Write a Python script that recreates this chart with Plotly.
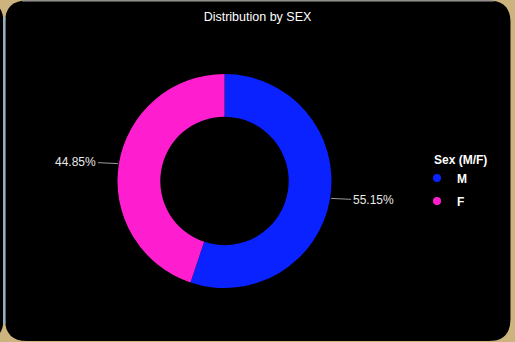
import math
import plotly.graph_objects as go

# ---- data ----
categories = ["M", "F"]
values = [55.15, 44.85]
colors = ["#0A22FF", "#FF1ECF"]
legend_title = "Sex (M/F)"
chart_title = "Distribution by SEX"

W, H = 515, 342
def px(x): return x / W
def py(y): return 1 - y / H

# donut geometry (pixels)
cx, cy, r = 224.5, 181.0, 107.0
hole = 0.6

fig = go.Figure()
fig.add_trace(go.Pie(
    labels=categories, values=values, marker=dict(colors=colors, line=dict(width=0)),
    hole=hole, sort=False, direction="clockwise", rotation=0,
    textinfo="none", hoverinfo="label+percent", showlegend=False,
    domain=dict(x=[px(cx - r), px(cx + r)], y=[py(cy + r), py(cy - r)]),
))

# legend entries (circle symbols)
for name, col in zip(categories, colors):
    fig.add_trace(go.Scatter(x=[None], y=[None], mode="markers", name=name, legendgroup=name,
                             marker=dict(size=8, color=col, symbol="circle")))

# outside percent labels with leader lines, derived from data
total = sum(values)
start = 0.0
annotations = []
for v in values:
    mid = start + v / total * 360 / 2
    start += v / total * 360
    a = math.radians(mid)
    hx = cx + (r + 1) * math.sin(a)
    hy = cy - (r + 1) * math.cos(a)
    side = 1 if math.sin(a) > 0 else -1
    annotations.append(dict(
        x=px(hx), y=py(hy), xref="paper", yref="paper",
        text=f"{v / total * 100:.2f}%", showarrow=True, arrowhead=0,
        arrowwidth=1, arrowcolor="#9a9a9a", ax=side * 42, ay=side * 2,
        font=dict(family="Arial", size=12, color="#e8e8e8"),
    ))

def rrect(x0, y0, x1, y1, rad):
    rx, ry = rad / W, rad / H
    X0, X1, Y0, Y1 = px(x0), px(x1), py(y0), py(y1)
    return (f"M {X0+rx},{Y0} L {X1-rx},{Y0} Q {X1},{Y0} {X1},{Y0-ry} "
            f"L {X1},{Y1+ry} Q {X1},{Y1} {X1-rx},{Y1} L {X0+rx},{Y1} "
            f"Q {X0},{Y1} {X0},{Y1+ry} L {X0},{Y0-ry} Q {X0},{Y0} {X0+rx},{Y0} Z")

shapes = [
    dict(type="path", xref="paper", yref="paper", layer="below",
         path=rrect(5, 0.5, 510.5, 341, 22), fillcolor="#000000", line=dict(width=0)),
    dict(type="path", xref="paper", yref="paper", layer="below",
         path=rrect(-40, 0.5, 3.5, 341, 22), fillcolor="#000000", line=dict(width=0)),
    dict(type="line", xref="paper", yref="paper", layer="below",
         x0=px(22), x1=px(494), y0=py(0.8), y1=py(0.8), line=dict(color="#a0a0a0", width=1.2)),
    dict(type="line", xref="paper", yref="paper", layer="below",
         x0=px(4.3), x1=px(4.3), y0=py(17), y1=py(324), line=dict(color="#94afc0", width=2.6)),
]

fig.update_layout(
    width=W, height=H, margin=dict(l=0, r=0, t=0, b=0),
    paper_bgcolor="#CDB47E", plot_bgcolor="rgba(0,0,0,0)",
    xaxis=dict(visible=False), yaxis=dict(visible=False),
    title=dict(text=chart_title, x=0.5, xanchor="center", y=py(17), yanchor="middle",
               font=dict(family="Arial", size=12.5, color="#ffffff")),
    legend=dict(title=dict(text=legend_title, font=dict(family="Arial", size=12, color="#ffffff", weight="bold")),
                x=px(432), xanchor="left", y=py(148), yanchor="top",
                font=dict(family="Arial", size=12, color="#ffffff", weight="bold"),
                bgcolor="rgba(0,0,0,0)", itemwidth=30, tracegroupgap=4, indentation=-15),
    shapes=shapes, annotations=annotations,
)

fig.write_html("out.html", config={"displayModeBar": False},
               post_script="document.body.style.margin='0';document.body.style.overflow='hidden';")
